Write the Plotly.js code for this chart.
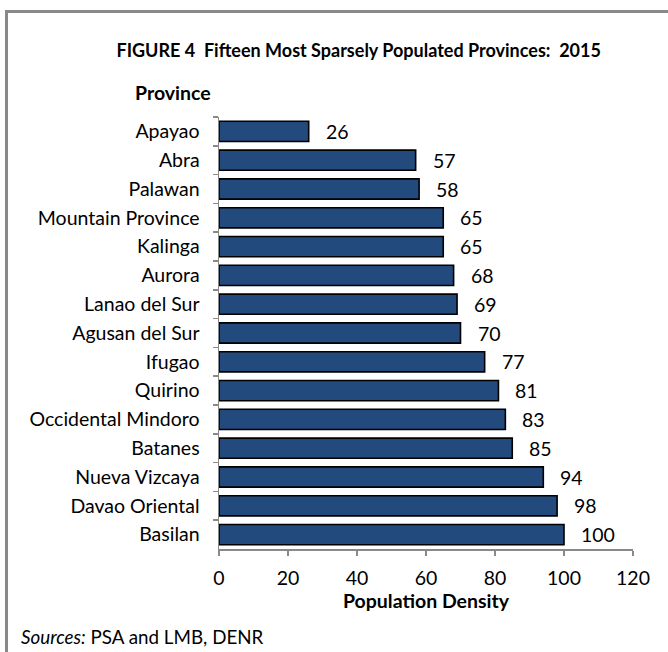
<!DOCTYPE html>
<html>
<head>
<meta charset="utf-8">
<script src="https://cdn.plot.ly/plotly-3.0.1.min.js"></script>
<style>
  html, body { margin:0; padding:0; background:#fff; }
  #wrap { position:relative; width:668px; height:652px; overflow:hidden; }
  #chart { position:absolute; left:0; top:0; width:668px; height:652px; }
  #frame { position:absolute; left:5px; top:10px; width:700px; height:700px;
           border-left:3px solid #898989; border-top:3px solid #898989; pointer-events:none; }
</style>
</head>
<body>
<div id="wrap">
  <div id="chart"></div>
  <div id="frame"></div>
</div>
<script>
const provinces = ["Apayao","Abra","Palawan","Mountain Province","Kalinga","Aurora","Lanao del Sur","Agusan del Sur","Ifugao","Quirino","Occidental Mindoro","Batanes","Nueva Vizcaya","Davao Oriental","Basilan"];
const density = [26,57,58,65,65,68,69,70,77,81,83,85,94,98,100];
const xTicks = [0,20,40,60,80,100,120];

const FONT = "Lato, 'Open Sans', sans-serif";
const fs = 19.5;

const trace = {
  type: "bar",
  orientation: "h",
  y: provinces,
  x: density,
  marker: { color: "#234a7c", line: { color: "#000", width: 1.6 } },
  hoverinfo: "skip"
};

const labelAnn = provinces.map((p, i) => ({
  x: density[i], y: p, xref: "x", yref: "y",
  text: String(density[i]), showarrow: false,
  xanchor: "left", xshift: 15, yshift: 0,
  font: { family: FONT, size: fs, color: "#000" }
}));

const layout = {
  width: 668, height: 652,
  margin: { l: 219, r: 35, t: 117, b: 103 },
  paper_bgcolor: "#fff", plot_bgcolor: "#fff",
  showlegend: false,
  bargap: 0.3,
  font: { family: FONT, size: fs, color: "#000" },
  title: { text: "<b>FIGURE 4  Fifteen Most Sparsely Populated Provinces:  2015</b>",
           x: 0.537, xanchor: "center", y: 0.923, yanchor: "middle", yref: "container",
           font: { family: FONT, size: 18, color: "#000" } },
  xaxis: {
    range: [0, 120], tickvals: xTicks, ticktext: xTicks.map(String),
    showgrid: false, zeroline: false,
    showline: true, linecolor: "#898989", linewidth: 1.5,
    ticks: "outside", ticklen: 5, tickcolor: "#898989", tickwidth: 1.5,
    ticklabelstandoff: 6,
    tickfont: { family: FONT, size: fs, color: "#000" },
    title: { text: "<b>Population Density</b>", standoff: 4,
             font: { family: FONT, size: fs, color: "#000" } },
    fixedrange: true
  },
  yaxis: {
    type: "category", autorange: "reversed",
    showgrid: false, zeroline: false,
    showline: true, linecolor: "#898989", linewidth: 1.5,
    ticks: "outside", tickson: "boundaries", ticklen: 5, tickcolor: "#898989", tickwidth: 1.5,
    ticklabelstandoff: 14,
    tickfont: { family: FONT, size: fs, color: "#000" },
    fixedrange: true
  },
  annotations: labelAnn.concat([
    { xref: "paper", yref: "paper", x: -0.207, y: 1.0, yshift: 25, xanchor: "left", yanchor: "middle",
      text: "<b>Province</b>", showarrow: false, font: { family: FONT, size: fs, color: "#000" } },
    { xref: "paper", yref: "paper", x: -0.483, y: 0, yshift: -87, xanchor: "left", yanchor: "middle",
      text: "<i>Sources:</i> PSA and LMB, DENR", showarrow: false,
      font: { family: FONT, size: 18.8, color: "#000" } }
  ])
};

Plotly.newPlot("chart", [trace], layout, { displayModeBar: false, staticPlot: true });
</script>
</body>
</html>
